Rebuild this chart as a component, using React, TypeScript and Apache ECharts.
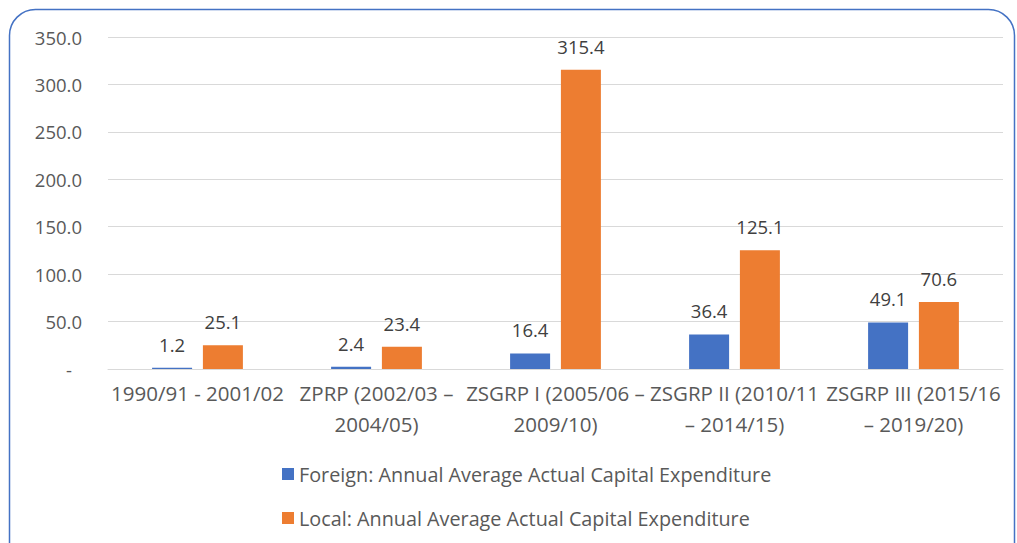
import React, { useEffect, useRef } from "react";
import * as echarts from "echarts";

const categories = [
  "1990/91 - 2001/02",
  "ZPRP (2002/03 –\n2004/05)",
  "ZSGRP I (2005/06 –\n2009/10)",
  "ZSGRP II (2010/11\n– 2014/15)",
  "ZSGRP III (2015/16\n– 2019/20)",
];
const foreignValues = [1.2, 2.4, 16.4, 36.4, 49.1];
const localValues = [25.1, 23.4, 315.4, 125.1, 70.6];
const seriesNames = [
  "Foreign: Annual Average Actual Capital Expenditure",
  "Local: Annual Average Actual Capital Expenditure",
];

const FONT = "'Open Sans', 'Noto Sans', sans-serif";

export default function App() {
  const ref = useRef<HTMLDivElement>(null);
  useEffect(() => {
    if (!ref.current) return;
    const chart = echarts.init(ref.current, undefined, { renderer: "svg" });
    const labelStyle = {
      show: true,
      position: "top" as const,
      distance: 14,
      color: "#404040",
      fontSize: 18.5,
      fontFamily: FONT,
      formatter: (p: any) => Number(p.value).toFixed(1),
    };
    chart.setOption({
      animation: false,
      textStyle: { fontFamily: FONT },
      graphic: [
        {
          type: "rect",
          shape: { x: 9.5, y: 9.5, width: 1005, height: 560, r: 26 },
          style: { fill: "none", stroke: "#4472C4", lineWidth: 1.5 },
          z: 10,
        },
      ],
      legend: {
        orient: "vertical",
        left: 277,
        top: 459,
        itemWidth: 12,
        itemHeight: 12,
        itemGap: 24,
        icon: "rect",
        textStyle: { color: "#595959", fontSize: 19.8, fontFamily: FONT },
        data: seriesNames,
      },
      grid: { left: 108, right: 14, top: 37, bottom: 174 },
      xAxis: {
        type: "category",
        data: categories,
        axisLine: { lineStyle: { color: "#D9D9D9" } },
        axisTick: { show: false },
        axisLabel: {
          color: "#595959",
          fontSize: 20.5,
          fontFamily: FONT,
          lineHeight: 31,
          margin: 8,
          interval: 0,
        },
      },
      yAxis: {
        type: "value",
        min: 0,
        max: 350,
        interval: 50,
        axisLine: { show: false },
        axisTick: { show: false },
        splitLine: { lineStyle: { color: "#D9D9D9", width: 1 } },
        axisLabel: {
          color: "#595959",
          fontSize: 18.5,
          fontFamily: FONT,
          margin: 26,
          formatter: (v: number) => (v === 0 ? "{dash|-}" : v.toFixed(1)),
          rich: {
            dash: { color: "#595959", fontSize: 18.5, fontFamily: FONT, padding: [0, 10, 0, 0] },
          },
        },
      },
      series: [
        {
          name: seriesNames[0],
          type: "bar",
          data: foreignValues,
          barWidth: 40,
          barGap: "27%",
          itemStyle: { color: "#4472C4" },
          label: labelStyle,
        },
        {
          name: seriesNames[1],
          type: "bar",
          data: localValues,
          barWidth: 40,
          barGap: "27%",
          itemStyle: { color: "#ED7D31" },
          label: labelStyle,
        },
      ],
    });
    return () => chart.dispose();
  }, []);
  return (
    <div
      ref={ref}
      style={{ position: "fixed", left: 0, top: 0, width: 1017, height: 543, background: "#fff" }}
    />
  );
}
